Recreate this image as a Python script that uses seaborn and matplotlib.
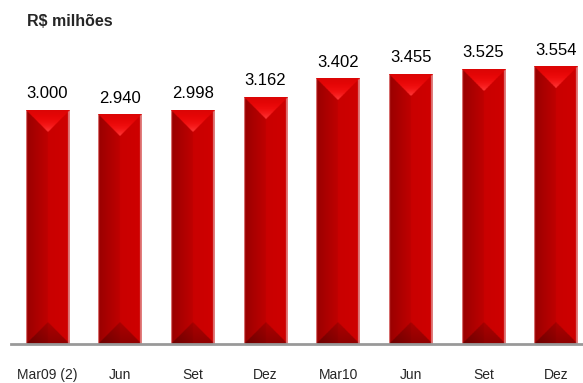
import numpy as np
import pandas as pd
import seaborn as sns
import matplotlib.pyplot as plt

periodos = ['Mar09 (2)', 'Jun09', 'Set09', 'Dez09', 'Mar10', 'Jun10', 'Set10', 'Dez10']
rotulos_x = ['Mar09 (2)', 'Jun', 'Set', 'Dez', 'Mar10', 'Jun', 'Set', 'Dez']
valores = [3000, 2940, 2998, 3162, 3402, 3455, 3525, 3554]
rotulos_val = ['3.000', '2.940', '2.998', '3.162', '3.402', '3.455', '3.525', '3.554']

df = pd.DataFrame({'periodo': periodos, 'valor': valores})

sns.set_style('white')
plt.rcParams['font.family'] = ['Liberation Sans', 'DejaVu Sans']

W, H = 583, 383
fig = plt.figure(figsize=(W / 100, H / 100), dpi=100)
ax_l, ax_b, ax_w, ax_h = 11 / W, 39 / H, 581.6 / W, 312 / H
ax = fig.add_axes([ax_l, ax_b, ax_w, ax_h])

sns.barplot(data=df, x='periodo', y='valor', order=periodos, color='#c00000',
            width=0.6, saturation=1, edgecolor='none', ax=ax)

ymax = 4000
ax.set_xlim(-0.5, len(periodos) - 0.5)
ax.set_ylim(0, ymax)

# escala em pixels para desenhar o efeito 3D das barras
px_x = ax_w * W / len(periodos)
px_y = ax_h * H / ymax


def cor_barra(u, v, h, d):
    # u: posicao horizontal 0..1, v: altura em dados
    r = np.where(u < 0.5, 0.60 + 0.30 * u, 0.79 + 0.04 * (u - 0.5))
    img = np.zeros(u.shape + (3,))
    img[..., 0] = r
    prof = d * (1 - np.abs(2 * u - 1))
    topo = (h - v) <= prof
    t = np.clip((h - v) / d, 0, 1)
    img[topo, 0] = 0.86 + 0.14 * t[topo]
    img[topo, 1] = 0.02 + 0.22 * t[topo] ** 3
    img[topo, 2] = 0.02 + 0.22 * t[topo] ** 3
    base = v <= prof
    s = np.clip(v / d, 0, 1)
    img[base, 0] = img[base, 0] * (0.70 + 0.15 * s[base])
    borda = (u > 0.96) | (u < 0.015)
    img[borda & ~topo] = [0.88, 0.50, 0.50]
    return img


for barra in ax.containers[0]:
    x0 = barra.get_x()
    w = barra.get_width()
    h = barra.get_height()
    d = (w * px_x / 2) / px_y
    uu, vv = np.meshgrid(np.linspace(0, 1, 90), np.linspace(0, h, 700))
    img = cor_barra(uu, vv, h, d)
    ax.imshow(img, extent=(x0, x0 + w, 0, h), origin='lower', aspect='auto',
              interpolation='bilinear', zorder=3)

ax.set_xlim(-0.5, len(periodos) - 0.5)
ax.set_ylim(0, ymax)

for barra, txt in zip(ax.containers[0], rotulos_val):
    ax.annotate(txt, (barra.get_x() + barra.get_width() / 2, barra.get_height()),
                xytext=(0, 6.5), textcoords='offset points', ha='center', va='bottom',
                fontsize=12, color='black')

sns.despine(ax=ax, left=True, top=True, right=True)
ax.spines['bottom'].set_color('#999999')
ax.spines['bottom'].set_linewidth(2)
ax.spines['bottom'].set_zorder(4)
ax.set_yticks([])
ax.set_xlabel('')
ax.set_ylabel('')
ax.set_xticks(range(len(periodos)))
ax.set_xticklabels(rotulos_x, fontsize=10)
ax.tick_params(axis='x', which='major', length=0, pad=17)
ax.set_xticks(np.arange(-0.5, len(periodos), 1), minor=True)
ax.tick_params(axis='x', which='minor', length=5, width=1.2, color='#999999', direction='out')

fig.text(27 / W, 1 - 21 / H, 'R$ milhões', fontsize=11.5, fontweight='bold', va='center', ha='left')

fig.savefig('out.png', dpi=100)
